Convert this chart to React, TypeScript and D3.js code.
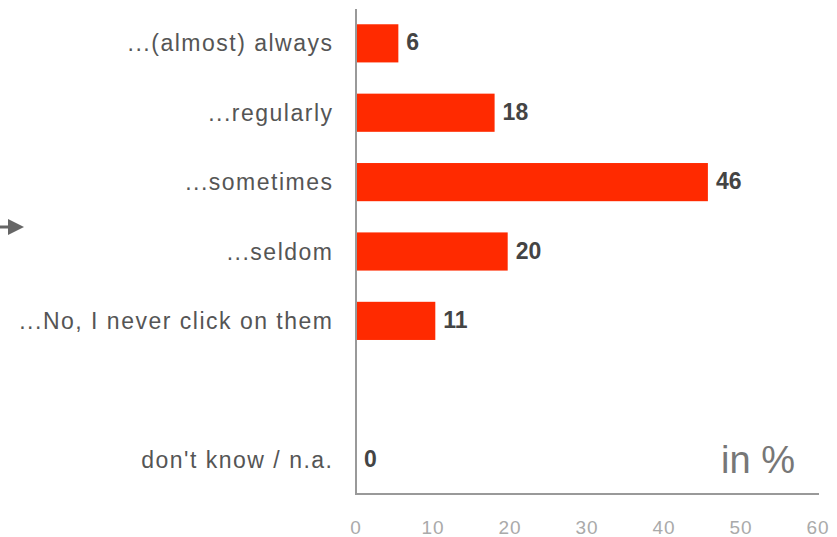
import React from "react";
import * as d3 from "d3";

const categories = [
  "...(almost) always",
  "...regularly",
  "...sometimes",
  "...seldom",
  "...No, I never click on them",
  "",
  "don't know / n.a.",
];
const values = [5.5, 18.0, 45.7, 19.7, 10.3, null, 0];
const labels = ["6", "18", "46", "20", "11", "", "0"];
const ticks = [0, 10, 20, 30, 40, 50, 60];

export default function App() {
  const W = 837, H = 537;
  const x = d3.scaleLinear().domain([0, 60]).range([356, 818]);
  const y = d3
    .scaleBand<number>()
    .domain(categories.map((_, i) => i))
    .range([9, 494])
    .paddingInner(0.45)
    .paddingOuter(0.22);
  const font = "Liberation Sans, Arial, sans-serif";
  return (
    <svg width={W} height={H} style={{ position: "absolute", left: 0, top: 0 }}>
      <rect width={W} height={H} fill="#fff" />
      {categories.map((c, i) => {
        const v = values[i];
        const yc = y(i)! + y.bandwidth() / 2;
        return (
          <g key={i}>
            <text x={333.5} y={yc} dy="0.35em" textAnchor="end" fontFamily={font} fontSize={23} letterSpacing={1.5} fill="#555">
              {c}
            </text>
            {v !== null && v > 0 && (
              <rect x={x(0)} y={y(i)} width={x(v) - x(0)} height={y.bandwidth()} fill="#ff2a00" />
            )}
            {v !== null && (
              <text x={x(v) + 8} y={yc - 1} dy="0.35em" fontFamily={font} fontWeight="bold" fontSize={23} fill="#444">
                {labels[i]}
              </text>
            )}
          </g>
        );
      })}
      <line x1={356} x2={356} y1={9} y2={494} stroke="#999" strokeWidth={2} />
      <line x1={355} x2={819} y1={494} y2={494} stroke="#999" strokeWidth={2} />
      {ticks.map((t) => (
        <text key={t} x={x(t)} y={534} textAnchor="middle" fontFamily={font} fontSize={19} letterSpacing={1} fill="#aaa">
          {t}
        </text>
      ))}
      <text x={721} y={473} fontFamily={font} fontSize={38} fill="#777">
        in %
      </text>
      <line x1={0} x2={10} y1={227} y2={227} stroke="#666" strokeWidth={3} />
      <path d="M8,219 L24,227 L8,235 Z" fill="#666" />
    </svg>
  );
}
